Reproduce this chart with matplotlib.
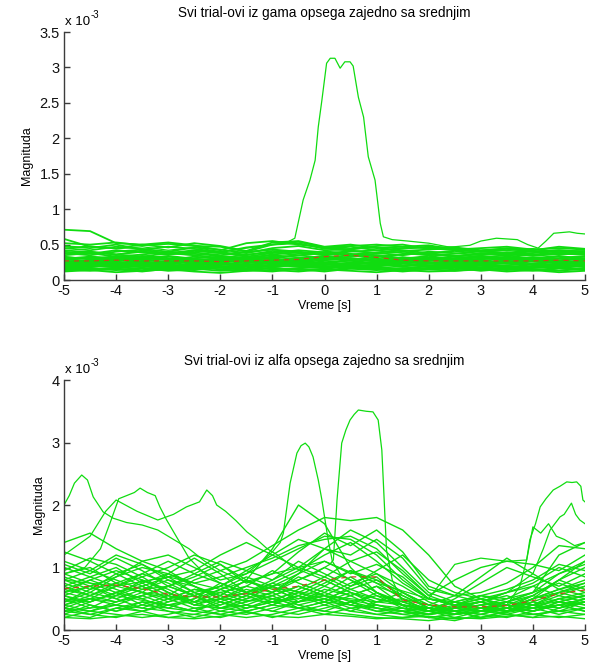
import numpy as np
import matplotlib
matplotlib.use("Agg")
import matplotlib.pyplot as plt
from matplotlib.ticker import FuncFormatter

# ================================================================
# Svi trial-ovi (gama i alfa opseg) zajedno sa srednjim
# vrednosti su u jedinicama 1e-3
# ================================================================

plt.rcParams['font.family'] = ['Liberation Sans', 'DejaVu Sans']
plt.rcParams['axes.unicode_minus'] = False

# time grid of the coarse trials (0.5 s step)
t_coarse = np.linspace(-5, 5, 21)

# ---------------- gama opseg ----------------
gama_trials = [
    [0.25, 0.28, 0.22, 0.26, 0.30, 0.27, 0.24, 0.29, 0.31, 0.26, 0.23, 0.28, 0.30, 0.25, 0.27, 0.29, 0.24, 0.26, 0.28, 0.25, 0.27],
    [0.18, 0.15, 0.17, 0.20, 0.16, 0.14, 0.18, 0.19, 0.15, 0.17, 0.20, 0.16, 0.18, 0.15, 0.17, 0.19, 0.16, 0.14, 0.17, 0.18, 0.16],
    [0.35, 0.38, 0.33, 0.36, 0.40, 0.37, 0.34, 0.31, 0.36, 0.39, 0.35, 0.37, 0.33, 0.36, 0.38, 0.34, 0.36, 0.39, 0.35, 0.37, 0.36],
    [0.12, 0.14, 0.11, 0.13, 0.15, 0.12, 0.10, 0.13, 0.14, 0.12, 0.15, 0.13, 0.11, 0.14, 0.12, 0.13, 0.15, 0.12, 0.14, 0.11, 0.13],
    [0.30, 0.26, 0.32, 0.29, 0.25, 0.31, 0.33, 0.28, 0.26, 0.30, 0.34, 0.29, 0.27, 0.32, 0.30, 0.26, 0.29, 0.33, 0.30, 0.28, 0.31],
    [0.45, 0.42, 0.47, 0.44, 0.40, 0.46, 0.43, 0.38, 0.45, 0.48, 0.42, 0.44, 0.46, 0.41, 0.43, 0.45, 0.40, 0.42, 0.44, 0.39, 0.41],
    [0.22, 0.20, 0.24, 0.21, 0.19, 0.23, 0.22, 0.20, 0.18, 0.22, 0.25, 0.21, 0.19, 0.23, 0.21, 0.20, 0.22, 0.24, 0.21, 0.19, 0.22],
    [0.52, 0.50, 0.53, 0.49, 0.51, 0.48, 0.47, 0.40, 0.50, 0.54, 0.46, 0.43, 0.48, 0.50, 0.44, 0.46, 0.42, 0.44, 0.40, 0.42, 0.40],
    [0.28, 0.32, 0.29, 0.34, 0.31, 0.27, 0.30, 0.33, 0.29, 0.27, 0.31, 0.35, 0.30, 0.28, 0.32, 0.30, 0.33, 0.29, 0.31, 0.34, 0.30],
    [0.16, 0.19, 0.21, 0.18, 0.22, 0.19, 0.17, 0.16, 0.20, 0.23, 0.19, 0.18, 0.21, 0.19, 0.16, 0.18, 0.21, 0.19, 0.17, 0.20, 0.22],
    [0.38, 0.35, 0.40, 0.43, 0.37, 0.41, 0.38, 0.35, 0.41, 0.38, 0.36, 0.40, 0.42, 0.38, 0.35, 0.37, 0.41, 0.38, 0.36, 0.39, 0.37],
    [0.24, 0.22, 0.26, 0.23, 0.27, 0.25, 0.22, 0.26, 0.24, 0.21, 0.27, 0.25, 0.23, 0.27, 0.24, 0.22, 0.25, 0.23, 0.26, 0.24, 0.23],
    [0.58, 0.47, 0.45, 0.50, 0.46, 0.52, 0.48, 0.41, 0.53, 0.55, 0.47, 0.50, 0.45, 0.47, 0.49, 0.43, 0.45, 0.47, 0.43, 0.45, 0.43],
    [0.14, 0.17, 0.15, 0.12, 0.16, 0.18, 0.15, 0.13, 0.17, 0.15, 0.12, 0.16, 0.14, 0.17, 0.15, 0.13, 0.16, 0.15, 0.13, 0.16, 0.14],
    [0.32, 0.30, 0.27, 0.31, 0.34, 0.30, 0.28, 0.31, 0.35, 0.32, 0.29, 0.33, 0.35, 0.31, 0.29, 0.33, 0.31, 0.28, 0.32, 0.30, 0.33],
    [0.20, 0.23, 0.19, 0.24, 0.21, 0.17, 0.21, 0.23, 0.20, 0.24, 0.22, 0.19, 0.22, 0.20, 0.23, 0.21, 0.18, 0.21, 0.23, 0.21, 0.19],
    [0.42, 0.39, 0.36, 0.40, 0.38, 0.42, 0.40, 0.33, 0.38, 0.42, 0.39, 0.36, 0.39, 0.42, 0.38, 0.41, 0.37, 0.35, 0.38, 0.41, 0.38],
    [0.26, 0.24, 0.28, 0.25, 0.23, 0.27, 0.29, 0.25, 0.22, 0.26, 0.30, 0.27, 0.24, 0.26, 0.28, 0.25, 0.27, 0.30, 0.26, 0.24, 0.28],
    [0.71, 0.69, 0.52, 0.50, 0.53, 0.49, 0.42, 0.52, 0.55, 0.50, 0.46, 0.48, 0.50, 0.47, 0.45, 0.42, 0.40, 0.38, 0.40, 0.42, 0.40],
    [0.19, 0.21, 0.18, 0.22, 0.20, 0.23, 0.19, 0.21, 0.24, 0.20, 0.18, 0.22, 0.20, 0.24, 0.19, 0.21, 0.23, 0.20, 0.18, 0.22, 0.20],
    [0.33, 0.29, 0.34, 0.31, 0.28, 0.33, 0.30, 0.27, 0.32, 0.35, 0.31, 0.28, 0.33, 0.30, 0.34, 0.29, 0.32, 0.35, 0.30, 0.33, 0.29],
    [0.13, 0.16, 0.14, 0.17, 0.13, 0.15, 0.18, 0.14, 0.12, 0.16, 0.14, 0.17, 0.15, 0.12, 0.15, 0.17, 0.13, 0.16, 0.14, 0.17, 0.15],
    [0.27, 0.25, 0.29, 0.26, 0.24, 0.28, 0.26, 0.30, 0.27, 0.25, 0.28, 0.31, 0.27, 0.25, 0.29, 0.27, 0.24, 0.28, 0.30, 0.26, 0.25],
    [0.37, 0.40, 0.36, 0.33, 0.38, 0.35, 0.31, 0.36, 0.39, 0.35, 0.38, 0.34, 0.37, 0.40, 0.36, 0.33, 0.38, 0.36, 0.34, 0.37, 0.39],
    [0.21, 0.18, 0.23, 0.20, 0.17, 0.21, 0.24, 0.22, 0.19, 0.21, 0.18, 0.23, 0.25, 0.21, 0.19, 0.23, 0.20, 0.18, 0.22, 0.19, 0.21],
    [0.30, 0.33, 0.31, 0.28, 0.33, 0.29, 0.27, 0.30, 0.33, 0.29, 0.32, 0.30, 0.28, 0.32, 0.27, 0.31, 0.34, 0.31, 0.28, 0.31, 0.34],
    [0.15, 0.13, 0.16, 0.14, 0.18, 0.16, 0.13, 0.15, 0.17, 0.14, 0.16, 0.19, 0.16, 0.14, 0.17, 0.15, 0.18, 0.16, 0.15, 0.13, 0.16],
    [0.24, 0.27, 0.25, 0.22, 0.26, 0.23, 0.25, 0.28, 0.23, 0.26, 0.24, 0.22, 0.26, 0.29, 0.25, 0.23, 0.26, 0.24, 0.22, 0.26, 0.24],
    [0.40, 0.37, 0.42, 0.39, 0.36, 0.39, 0.35, 0.39, 0.43, 0.40, 0.37, 0.41, 0.38, 0.35, 0.40, 0.38, 0.35, 0.39, 0.41, 0.36, 0.38],
    [0.17, 0.20, 0.18, 0.16, 0.19, 0.21, 0.18, 0.17, 0.21, 0.19, 0.17, 0.20, 0.18, 0.16, 0.20, 0.18, 0.21, 0.17, 0.19, 0.22, 0.18],
    [0.29, 0.27, 0.31, 0.33, 0.29, 0.26, 0.32, 0.29, 0.27, 0.31, 0.33, 0.30, 0.26, 0.29, 0.31, 0.28, 0.30, 0.32, 0.29, 0.27, 0.30],
    [0.23, 0.25, 0.21, 0.24, 0.22, 0.26, 0.23, 0.21, 0.25, 0.23, 0.21, 0.24, 0.22, 0.25, 0.23, 0.26, 0.22, 0.24, 0.27, 0.23, 0.25],
    [0.48, 0.45, 0.50, 0.43, 0.47, 0.44, 0.39, 0.46, 0.50, 0.52, 0.44, 0.47, 0.42, 0.45, 0.47, 0.44, 0.41, 0.45, 0.42, 0.47, 0.44],
]

# trial with the big burst around 0 s
gama_peak_t = [-5, -4.5, -4, -3.5, -3, -2.5, -2, -1.5, -1, -0.75, -0.57, -0.41, -0.28, -0.18, -0.12, -0.05, 0.04, 0.11, 0.2, 0.3,
               0.39, 0.49, 0.55, 0.65, 0.75, 0.84, 0.97, 1.07, 1.13, 1.3, 1.6, 2.0, 2.5, 3.0, 3.5, 4.0, 4.5, 5.0]
gama_peak_v = [0.45, 0.48, 0.44, 0.47, 0.42, 0.46, 0.40, 0.45, 0.50, 0.52, 0.59, 1.13, 1.41, 1.69, 2.16, 2.54, 3.06, 3.13, 3.13, 2.99,
               3.08, 3.08, 3.02, 2.58, 2.30, 1.74, 1.41, 0.80, 0.61, 0.57, 0.55, 0.52, 0.45, 0.42, 0.44, 0.40, 0.42, 0.40]

# trial rising at the right edge
gama_right_t = [-5, -4.5, -4, -3.5, -3, -2.5, -2, -1.5, -1, -0.5, 0, 0.5, 1, 1.5, 2, 2.5, 2.79, 3.0, 3.3, 3.5,
                3.7, 3.9, 4.1, 4.25, 4.4, 4.55, 4.7, 4.85, 5.0]
gama_right_v = [0.38, 0.40, 0.36, 0.42, 0.38, 0.35, 0.37, 0.40, 0.43, 0.38, 0.40, 0.42, 0.38, 0.44, 0.46, 0.47, 0.49, 0.55, 0.59, 0.58,
                0.57, 0.50, 0.45, 0.55, 0.66, 0.67, 0.68, 0.66, 0.65]

gama_mean = [0.27, 0.27, 0.28, 0.27, 0.27, 0.27, 0.26, 0.27, 0.28, 0.29, 0.33, 0.35, 0.32, 0.28, 0.27, 0.27, 0.27, 0.27, 0.27, 0.28, 0.27]

# ---------------- alfa opseg ----------------
alfa_trials = [
    [1.40, 1.55, 1.30, 1.10, 1.20, 1.00, 0.80, 0.90, 1.10, 1.30, 1.50, 1.45, 1.20, 0.80, 0.50, 0.40, 0.45, 0.35, 0.50, 0.80, 1.00],
    [1.25, 1.10, 0.90, 1.05, 0.80, 0.60, 0.70, 0.95, 1.20, 1.00, 0.85, 1.10, 0.90, 0.60, 0.35, 0.30, 0.40, 0.45, 0.60, 1.20, 1.40],
    [1.05, 0.90, 1.15, 0.95, 0.70, 0.85, 1.05, 0.80, 0.60, 0.90, 1.30, 1.60, 1.40, 1.00, 0.60, 0.45, 0.35, 0.30, 0.40, 0.60, 0.75],
    [0.90, 1.00, 0.75, 0.60, 0.90, 1.15, 0.90, 0.60, 0.80, 1.10, 0.90, 0.70, 0.95, 1.20, 0.80, 0.60, 0.50, 0.40, 0.35, 0.50, 0.60],
    [0.75, 0.60, 0.85, 1.10, 0.95, 0.70, 0.50, 0.70, 0.95, 0.75, 0.60, 0.85, 0.60, 0.40, 0.30, 0.50, 0.75, 1.00, 0.85, 0.70, 0.90],
    [0.60, 0.80, 0.65, 0.50, 0.60, 0.40, 0.55, 0.80, 0.65, 0.50, 0.70, 0.95, 0.75, 0.50, 0.40, 0.30, 0.25, 0.35, 0.50, 0.65, 0.55],
    [0.50, 0.35, 0.55, 0.70, 0.50, 0.35, 0.40, 0.55, 0.40, 0.60, 0.80, 0.60, 0.40, 0.30, 0.20, 0.25, 0.30, 0.25, 0.35, 0.50, 0.40],
    [0.35, 0.50, 0.40, 0.30, 0.45, 0.60, 0.45, 0.30, 0.40, 0.55, 0.45, 0.30, 0.45, 0.60, 0.40, 0.30, 0.20, 0.30, 0.45, 0.35, 0.50],
    [0.30, 0.25, 0.35, 0.45, 0.30, 0.20, 0.30, 0.40, 0.30, 0.25, 0.35, 0.45, 0.30, 0.25, 0.20, 0.15, 0.25, 0.20, 0.30, 0.40, 0.30],
    [0.20, 0.30, 0.25, 0.20, 0.25, 0.35, 0.25, 0.20, 0.25, 0.35, 0.30, 0.25, 0.20, 0.18, 0.15, 0.20, 0.18, 0.22, 0.25, 0.20, 0.25],
    [0.65, 0.55, 0.45, 0.55, 0.70, 0.55, 0.35, 0.45, 0.60, 0.80, 1.00, 0.80, 0.55, 0.35, 0.25, 0.35, 0.45, 0.55, 0.40, 0.30, 0.45],
    [0.45, 0.65, 0.90, 0.70, 0.50, 0.65, 0.60, 0.45, 0.55, 0.70, 0.55, 0.40, 0.60, 0.45, 0.30, 0.40, 0.30, 0.35, 0.55, 0.80, 0.65],
    [0.85, 0.70, 0.55, 0.80, 0.65, 0.45, 0.65, 0.85, 0.70, 0.45, 0.55, 0.75, 0.90, 0.70, 0.45, 0.30, 0.40, 0.50, 0.70, 0.55, 0.70],
    [0.55, 0.45, 0.60, 0.40, 0.35, 0.50, 0.75, 0.60, 0.45, 0.65, 0.85, 0.65, 0.50, 0.40, 0.35, 0.45, 0.35, 0.40, 0.30, 0.45, 0.35],
    [0.40, 0.55, 0.70, 0.85, 0.60, 0.40, 0.35, 0.50, 0.70, 0.55, 0.40, 0.55, 0.70, 0.55, 0.35, 0.25, 0.30, 0.45, 0.60, 0.75, 0.60],
    [0.25, 0.40, 0.30, 0.40, 0.55, 0.45, 0.30, 0.25, 0.35, 0.45, 0.60, 0.45, 0.35, 0.30, 0.25, 0.35, 0.45, 0.35, 0.25, 0.30, 0.35],
    [1.10, 0.95, 1.20, 1.05, 0.85, 0.95, 1.20, 1.40, 1.20, 1.45, 1.30, 1.10, 1.25, 0.95, 0.55, 0.80, 1.00, 1.10, 1.05, 0.95, 1.20],
    [0.70, 0.85, 1.00, 0.75, 0.55, 0.80, 0.95, 1.10, 1.35, 1.60, 1.80, 1.75, 1.80, 1.60, 1.20, 0.70, 0.50, 0.40, 0.55, 0.80, 1.10],
    [0.50, 0.45, 0.60, 0.75, 0.90, 0.70, 0.55, 0.80, 1.30, 2.00, 1.70, 1.00, 0.60, 0.40, 0.30, 0.35, 0.30, 0.45, 0.40, 0.35, 0.45],
    [0.95, 1.15, 1.05, 0.85, 1.00, 1.20, 1.05, 0.75, 0.90, 1.25, 1.55, 1.35, 1.60, 1.25, 0.70, 0.55, 0.60, 0.75, 1.00, 1.35, 1.30],
    [0.20, 0.18, 0.22, 0.25, 0.20, 0.18, 0.22, 0.28, 0.22, 0.20, 0.25, 0.22, 0.18, 0.20, 0.22, 0.18, 0.20, 0.25, 0.20, 0.22, 0.18],
    [0.60, 0.70, 0.50, 0.65, 0.80, 0.70, 0.50, 0.35, 0.50, 0.60, 0.50, 0.65, 0.80, 0.60, 0.40, 0.55, 0.85, 1.15, 0.90, 0.65, 0.75],
    [0.80, 0.65, 0.75, 0.90, 1.10, 0.90, 0.75, 0.60, 0.75, 0.95, 1.20, 1.40, 1.10, 0.75, 0.50, 0.40, 0.50, 0.60, 0.75, 1.00, 0.85],
    [0.35, 0.30, 0.45, 0.55, 0.40, 0.30, 0.45, 0.60, 0.50, 0.40, 0.50, 0.35, 0.25, 0.20, 0.25, 0.35, 0.40, 0.30, 0.40, 0.55, 0.45],
    [0.45, 0.60, 0.50, 0.35, 0.50, 0.65, 0.55, 0.40, 0.30, 0.45, 0.65, 0.55, 0.35, 0.25, 0.30, 0.20, 0.30, 0.40, 0.30, 0.45, 0.55],
    [0.70, 0.55, 0.75, 0.60, 0.45, 0.55, 0.40, 0.55, 0.75, 0.60, 0.45, 0.70, 0.85, 0.50, 0.30, 0.35, 0.45, 0.30, 0.50, 0.65, 0.80],
    [0.30, 0.45, 0.60, 0.50, 0.35, 0.30, 0.50, 0.65, 0.55, 0.70, 0.55, 0.40, 0.30, 0.35, 0.25, 0.30, 0.20, 0.30, 0.35, 0.25, 0.35],
    [0.90, 0.75, 0.60, 0.70, 0.85, 0.60, 0.45, 0.35, 0.45, 0.55, 0.75, 0.95, 0.80, 0.55, 0.35, 0.25, 0.35, 0.45, 0.55, 0.45, 0.55],
    [0.55, 0.40, 0.30, 0.45, 0.40, 0.50, 0.65, 0.50, 0.60, 0.40, 0.30, 0.45, 0.55, 0.45, 0.50, 0.40, 0.50, 0.35, 0.45, 0.60, 0.70],
    [0.25, 0.20, 0.35, 0.30, 0.20, 0.25, 0.20, 0.30, 0.20, 0.30, 0.40, 0.30, 0.25, 0.30, 0.35, 0.25, 0.30, 0.35, 0.25, 0.30, 0.25],
    [1.00, 0.85, 0.70, 0.90, 0.75, 0.55, 0.70, 0.55, 0.70, 0.90, 1.10, 0.90, 1.05, 0.85, 0.50, 0.45, 0.55, 0.50, 0.60, 0.90, 1.05],
    [0.40, 0.30, 0.40, 0.55, 0.70, 0.55, 0.35, 0.40, 0.55, 0.35, 0.45, 0.60, 0.45, 0.50, 0.30, 0.45, 0.55, 0.45, 0.35, 0.40, 0.30],
    [0.65, 0.80, 0.95, 0.80, 0.60, 0.45, 0.60, 0.70, 0.60, 0.85, 0.70, 0.55, 0.70, 0.40, 0.35, 0.30, 0.25, 0.35, 0.50, 0.60, 0.50],
    [0.35, 0.25, 0.20, 0.30, 0.40, 0.30, 0.25, 0.35, 0.45, 0.35, 0.25, 0.35, 0.40, 0.30, 0.20, 0.25, 0.35, 0.25, 0.20, 0.35, 0.45],
    [0.80, 0.95, 0.80, 0.65, 0.70, 0.90, 1.10, 0.95, 0.80, 1.00, 1.30, 1.20, 1.45, 1.15, 0.65, 0.55, 0.45, 0.60, 0.70, 0.90, 1.10],
    [0.55, 0.70, 0.85, 1.00, 0.90, 0.75, 0.85, 1.00, 1.15, 1.35, 1.45, 1.50, 1.30, 0.90, 0.55, 0.40, 0.55, 0.65, 0.80, 1.05, 0.95],
]

# high-amplitude alfa trials, each with its own time points
alfa_a1_t = [-5, -4.9, -4.8, -4.66, -4.55, -4.44, -4.25, -4.06, -3.8, -3.5, -3.2, -2.9, -2.6, -2.3, -2.0,
             -1.6, -1.2, -0.8, -0.4, 0.0, 0.5, 1.0, 1.5, 2.0, 2.5, 3.0, 3.5, 4.0, 4.5, 5.0]
alfa_a1_v = [2.00, 2.15, 2.35, 2.48, 2.40, 2.13, 1.89, 1.79, 1.72, 1.68, 1.60, 1.45, 1.30, 1.10, 0.95,
             0.80, 0.70, 0.65, 0.60, 0.55, 0.50, 0.45, 0.40, 0.30, 0.25, 0.30, 0.35, 0.30, 0.40, 0.45]

alfa_a2_t = [-5, -4.6, -4.3, -4.1, -3.95, -3.8, -3.65, -3.54, -3.4, -3.25, -3.16, -3.03, -2.84, -2.6, -2.3,
             -2.0, -1.5, -1.0, -0.5, 0, 0.5, 1.0, 1.5, 2.0, 2.5, 3.0, 3.5, 4.0, 4.5, 5.0]
alfa_a2_v = [0.90, 1.00, 1.30, 1.75, 2.10, 2.15, 2.20, 2.27, 2.20, 2.15, 1.97, 1.76, 1.49, 1.15, 0.90,
             0.75, 0.60, 0.50, 0.45, 0.50, 0.40, 0.35, 0.30, 0.25, 0.30, 0.35, 0.30, 0.40, 0.50, 0.55]

alfa_a3_t = [-5, -4.5, -4.2, -4.0, -3.6, -3.2, -2.9, -2.65, -2.4, -2.26, -2.15, -2.07, -1.9, -1.7, -1.49,
             -1.3, -1.1, -0.9, -0.6, -0.3, 0, 0.5, 1.0, 1.5, 2.0, 2.5, 3.0, 3.5, 4.0, 4.5, 5.0]
alfa_a3_v = [1.20, 1.50, 1.90, 2.08, 1.90, 1.76, 1.85, 1.97, 2.05, 2.24, 2.15, 2.00, 1.90, 1.75, 1.57,
             1.45, 1.30, 1.20, 1.00, 0.90, 0.80, 0.60, 0.50, 0.40, 0.30, 0.35, 0.30, 0.35, 0.30, 0.40, 0.50]

alfa_p1_t = [-5, -4.5, -4, -3.5, -3, -2.5, -2, -1.5, -1.2, -1.0, -0.85, -0.79, -0.66, -0.53, -0.45, -0.37, -0.3,
             -0.22, -0.12, -0.05, 0.01, 0.07, 0.15, 0.3, 0.5, 0.8, 1.2, 1.6, 2.0, 2.5, 3.0, 3.5, 4.0, 4.5, 5.0]
alfa_p1_v = [0.60, 0.50, 0.70, 0.60, 0.50, 0.55, 0.70, 0.90, 1.10, 1.25, 1.40, 1.55, 2.35, 2.83, 2.95, 2.99, 2.93,
             2.77, 2.40, 2.08, 1.76, 1.44, 1.10, 0.90, 0.80, 0.70, 0.50, 0.35, 0.30, 0.25, 0.30, 0.28, 0.35, 0.40, 0.50]

alfa_p2_t = [-5, -4.5, -4, -3.5, -3, -2.5, -2, -1.5, -1, -0.5, -0.2, 0.0, 0.1, 0.17, 0.24, 0.33, 0.41, 0.49,
             0.57, 0.65, 0.8, 0.93, 1.03, 1.1, 1.13, 1.16, 1.19, 1.3, 1.5, 2.0, 2.5, 3.0, 3.5, 4.0, 4.5, 5.0]
alfa_p2_v = [0.40, 0.50, 0.45, 0.60, 0.55, 0.40, 0.50, 0.60, 0.70, 0.80, 0.90, 1.00, 1.05, 1.12, 2.08, 2.99, 3.20, 3.36,
             3.45, 3.52, 3.50, 3.49, 3.36, 2.88, 2.35, 1.81, 1.28, 0.80, 0.45, 0.35, 0.30, 0.35, 0.30, 0.40, 0.45, 0.40]

alfa_r1_t = [-5, -4.5, -4, -3.5, -3, -2.5, -2, -1.5, -1, -0.5, 0, 0.5, 1, 1.5, 2, 2.5, 3, 3.5, 3.75, 3.88,
             3.94, 4.05, 4.14, 4.25, 4.39, 4.52, 4.65, 4.75, 4.84, 4.92, 4.96, 5.0]
alfa_r1_v = [0.30, 0.35, 0.40, 0.35, 0.30, 0.25, 0.35, 0.30, 0.40, 0.35, 0.45, 0.40, 0.35, 0.30, 0.25, 0.30, 0.35, 0.40, 0.70, 1.12,
             1.44, 1.70, 1.97, 2.10, 2.24, 2.30, 2.37, 2.36, 2.37, 2.30, 2.08, 2.05]

alfa_r2_t = [-5, -4, -3, -2, -1, 0, 1, 2, 3, 3.5, 4.0, 4.2, 4.33, 4.52, 4.6, 4.74, 4.82, 4.9, 5.0]
alfa_r2_v = [0.45, 0.55, 0.40, 0.50, 0.45, 0.55, 0.40, 0.30, 0.45, 0.60, 0.90, 1.30, 1.60, 1.81, 1.85, 2.03, 1.85, 1.76, 1.70]

alfa_r3_t = [-5, -4, -3, -2, -1, 0, 1, 2, 2.5, 3.0, 3.5, 3.88, 4.0, 4.15, 4.3, 4.45, 4.6, 4.8, 5.0]
alfa_r3_v = [0.80, 0.70, 0.85, 0.65, 0.90, 1.10, 0.75, 0.50, 1.05, 1.15, 1.10, 1.12, 1.65, 1.55, 1.70, 1.50, 1.45, 1.35, 1.40]

alfa_mean = [0.66, 0.70, 0.72, 0.66, 0.57, 0.53, 0.53, 0.58, 0.65, 0.70, 0.80, 0.85, 0.85, 0.48, 0.40, 0.37, 0.37, 0.39, 0.47, 0.58, 0.64]

LINE_C = '#10dc10'
MEAN_C = '#c8461e'
AX_C = '#3c3c3c'


def style_axes(ax, ymax, ystep, title):
    ax.set_xlim(-5, 5)
    ax.set_ylim(0, ymax)
    ax.set_xticks(np.arange(-5, 6, 1))
    ax.set_yticks(np.arange(0, ymax + 1e-9, ystep))
    ax.yaxis.set_major_formatter(FuncFormatter(lambda v, p: '%g' % v))
    ax.xaxis.set_major_formatter(FuncFormatter(lambda v, p: '%g' % v))
    for s in ['top', 'right']:
        ax.spines[s].set_visible(False)
    for s in ['left', 'bottom']:
        ax.spines[s].set_color(AX_C)
        ax.spines[s].set_linewidth(1.0)
    ax.tick_params(direction='in', length=4, width=1.0, color=AX_C,
                   labelsize=10.5, pad=3, labelcolor='#111111')
    ax.set_xlabel('Vreme [s]', fontsize=9, labelpad=1)
    ax.set_ylabel('Magnituda', fontsize=9, labelpad=5)
    ax.set_title(title, fontsize=9.8, pad=11)
    ax.annotate('x 10', xy=(0, 1), xycoords='axes fraction', xytext=(1, 3),
                textcoords='offset points', fontsize=9.5, ha='left', va='bottom')
    ax.annotate('-3', xy=(0, 1), xycoords='axes fraction', xytext=(19, 9),
                textcoords='offset points', fontsize=7, ha='left', va='bottom')


fig = plt.figure(figsize=(5.95, 6.72), dpi=100)

# gama panel
ax1 = fig.add_axes([0.1076, 0.5833, 0.8756, 0.369])
for tr in gama_trials:
    ax1.plot(t_coarse, tr, color=LINE_C, lw=1.3)
ax1.plot(gama_peak_t, gama_peak_v, color=LINE_C, lw=0.9)
ax1.plot(gama_right_t, gama_right_v, color=LINE_C, lw=0.9)
ax1.plot(t_coarse, gama_mean, color=MEAN_C, lw=0.9, dashes=(4, 4))
style_axes(ax1, 3.5, 0.5, 'Svi trial-ovi iz gama opsega zajedno sa srednjim')

# alfa panel
ax2 = fig.add_axes([0.1076, 0.0625, 0.8756, 0.372])
for tr in alfa_trials:
    ax2.plot(t_coarse, tr, color=LINE_C, lw=1.0)
for tt, vv in [(alfa_a1_t, alfa_a1_v), (alfa_a2_t, alfa_a2_v), (alfa_a3_t, alfa_a3_v),
               (alfa_p1_t, alfa_p1_v), (alfa_p2_t, alfa_p2_v), (alfa_r1_t, alfa_r1_v),
               (alfa_r2_t, alfa_r2_v), (alfa_r3_t, alfa_r3_v)]:
    ax2.plot(tt, vv, color=LINE_C, lw=0.9)
ax2.plot(t_coarse, alfa_mean, color=MEAN_C, lw=0.9, dashes=(4, 4))
style_axes(ax2, 4, 1, 'Svi trial-ovi iz alfa opsega zajedno sa srednjim')

plt.savefig('out.png', dpi=100)
